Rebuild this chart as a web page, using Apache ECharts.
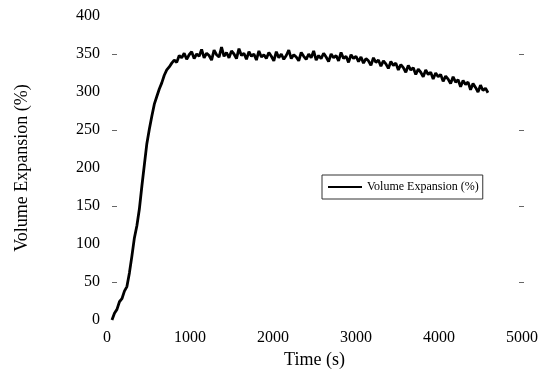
<!DOCTYPE html>
<html>
<head>
<meta charset="utf-8">
<script src="https://cdn.jsdelivr.net/npm/echarts@6/dist/echarts.min.js"></script>
<style>html,body{margin:0;padding:0;background:#fff}#c{width:542px;height:374px}</style>
</head>
<body>
<div id="c"></div>
<script>
const seriesName = 'Volume Expansion (%)';
const xTitle = 'Time (s)';
const yTitle = 'Volume Expansion (%)';
const xTicks = [0, 1000, 2000, 3000, 4000, 5000];
const yTicks = [0, 50, 100, 150, 200, 250, 300, 350, 400];

const timeS = [
60,90,120,150,180,210,240,270,300,330,360,390,420,450,480,510,540,570,600,630,660,690,720,750,780,810,840,870,
900,930,960,990,1020,1050,1080,1110,1140,1170,1200,1230,1260,1290,1320,1350,1380,1410,1440,1470,1500,1530,1560,1590,1620,1650,1680,1710,1740,1770,1800,1830,1860,1890,1920,1950,1980,2010,2040,2070,2100,2130,2160,2190,2220,2250,2280,2310,2340,2370,2400,2430,2460,2490,2520,2550,2580,2610,2640,2670,2700,2730,2760,2790,2820,2850,2880,2910,2940,2970,3000,
3030,3060,3090,3120,3150,3180,3210,3240,3270,3300,3330,3360,3390,3420,3450,3480,3510,3540,3570,3600,3630,3660,3690,3720,3750,3780,3810,3840,3870,3900,3930,3960,3990,4020,4050,4080,4110,4140,4170,4200,4230,4260,4290,4320,4350,4380,4410,4440,4470,4500,4530,4560,4590
];
const expansion = [
0,9,14,24,28,38,44,62,84,108,124,146,176,204,232,251,268,284,294,304,312,322,329,333,338,342,339,348,
345,351,343,349,353,344,350,347,356,345,351,348,342,355,349,346,359,347,352,345,354,350,344,357,348,351,343,353,347,350,342,354,346,349,344,352,347,341,353,345,350,343,348,355,344,349,346,341,352,347,343,350,345,354,342,348,344,351,346,340,350,345,348,341,352,344,347,339,349,344,347,
340,346,338,344,341,335,345,339,342,334,341,337,331,340,335,338,329,336,332,326,335,329,332,323,330,326,320,329,323,326,317,325,320,323,314,321,317,311,320,313,316,307,315,310,313,303,311,306,300,309,302,305,299
];

const points = timeS.map((t, i) => [t, expansion[i]]);
const serif = 'Liberation Serif, Times New Roman, serif';

const chart = echarts.init(document.getElementById('c'), null, {renderer: 'canvas'});
chart.setOption({
  animation: false,
  backgroundColor: '#fff',
  textStyle: {fontFamily: serif},
  grid: {left: 107, right: 20, top: 16, bottom: 53, containLabel: false},
  legend: {
    show: true,
    data: [seriesName],
    left: 322, top: 175,
    orient: 'horizontal',
    padding: [5, 4, 5, 6],
    icon: 'rect',
    itemWidth: 34, itemHeight: 2, itemGap: 5,
    itemStyle: {color: '#000'},
    borderColor: '#333', borderWidth: 1,
    textStyle: {fontFamily: serif, fontSize: 12, color: '#000', lineHeight: 14}
  },
  xAxis: [{
    type: 'value', min: xTicks[0], max: xTicks[xTicks.length - 1], interval: 1000,
    name: xTitle, nameLocation: 'middle', nameGap: 31,
    nameTextStyle: {fontFamily: serif, fontSize: 18, color: '#000'},
    axisLine: {show: false}, axisTick: {show: false}, splitLine: {show: false},
    axisLabel: {fontFamily: serif, fontSize: 16, color: '#000', margin: 10, formatter: v => String(v)}
  }],
  yAxis: [{
    type: 'value', min: yTicks[0], max: yTicks[yTicks.length - 1], interval: 50,
    name: yTitle, nameLocation: 'middle', nameGap: 76,
    nameTextStyle: {fontFamily: serif, fontSize: 18, color: '#000'},
    axisLine: {show: false}, axisTick: {show: false}, splitLine: {show: false},
    axisLabel: {fontFamily: serif, fontSize: 16, color: '#000', margin: 7, formatter: v => String(v)}
  }, {
    type: 'value', position: 'left', offset: -5, min: yTicks[0], max: yTicks[yTicks.length - 1], interval: 100,
    axisLine: {show: false}, axisLabel: {show: false}, splitLine: {show: false},
    axisTick: {show: false, inside: true},
    minorTick: {show: true, splitNumber: 2, length: 5, lineStyle: {color: '#666', width: 1}}
  }, {
    type: 'value', position: 'right', offset: -3, min: yTicks[0], max: yTicks[yTicks.length - 1], interval: 100,
    axisLine: {show: false}, axisLabel: {show: false}, splitLine: {show: false},
    axisTick: {show: false, inside: false},
    minorTick: {show: true, splitNumber: 2, length: 5, lineStyle: {color: '#666', width: 1}}
  }],
  series: [{
    name: seriesName,
    type: 'line',
    data: points,
    showSymbol: false,
    symbol: 'none',
    lineStyle: {color: '#000', width: 2.8},
    itemStyle: {color: '#000'}
  }]
});
</script>
</body>
</html>
